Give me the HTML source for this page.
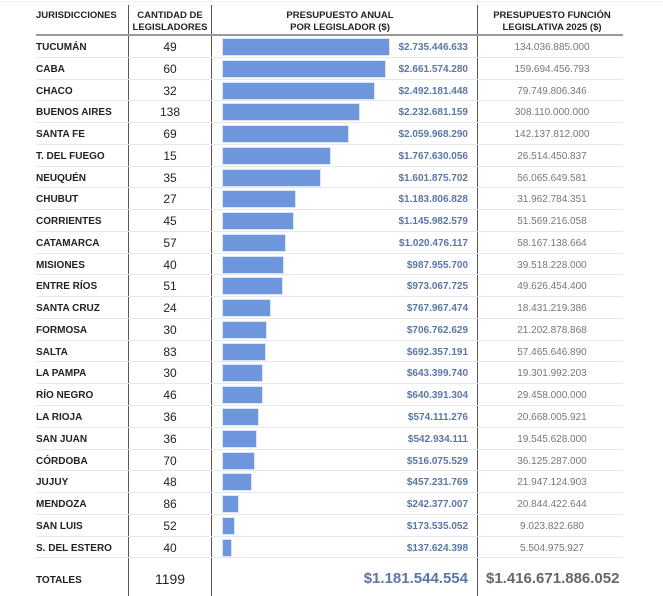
<!DOCTYPE html><html><head><meta charset="utf-8"><style>
body{margin:0;width:663px;height:596px;background:#fff;font-family:"Liberation Sans",sans-serif;position:relative;overflow:hidden}
.v{position:absolute;top:5px;bottom:0;width:1px;background:#555}
.h{position:absolute;font-weight:bold;font-size:9.5px;color:#222;text-align:center;line-height:12px}
#rows{position:absolute;left:36px;top:36px;width:587px}
.r{height:20.78px;border-bottom:1px solid #e8e8e8;position:relative;font-size:10px}
.r span{position:absolute;top:6px;line-height:12px}
.n{left:0;font-weight:bold;color:#222}
.c{left:92px;width:84px;text-align:center;font-size:12px;color:#222;top:5px!important}
.b{position:absolute;left:187px;top:3px;height:16px;background:#6e96dd;box-shadow:0 0 0 1px #dbe5f6}
.p{right:155px;font-weight:bold;color:#5a77a6}
.l{left:441px;width:150px;text-align:center;color:#777}
</style></head><body>
<div style="position:absolute;left:0;right:0;top:1px;height:1px;background:#eee"></div>
<div class="v" style="left:128px"></div><div class="v" style="left:211px"></div><div class="v" style="left:477px"></div>
<div style="position:absolute;left:36px;width:587px;top:34px;height:2px;background:#999"></div>
<div class="h" style="left:36px;top:10px;text-align:left">JURISDICCIONES</div>
<div class="h" style="left:128px;width:84px;top:10px">CANTIDAD DE<br>LEGISLADORES</div>
<div class="h" style="left:260px;width:160px;top:10px">PRESUPUESTO ANUAL<br>POR LEGISLADOR ($)</div>
<div class="h" style="left:477px;width:150px;top:10px">PRESUPUESTO FUNCIÓN<br>LEGISLATIVA 2025 ($)</div>
<div id="rows">
<div class="r"><span class="n">TUCUMÁN</span><span class="c">49</span><div class="b" style="width:166px"></div><span class="p">$2.735.446.633</span><span class="l">134.036.885.000</span></div>
<div class="r"><span class="n">CABA</span><span class="c">60</span><div class="b" style="width:161.5px"></div><span class="p">$2.661.574.280</span><span class="l">159.694.456.793</span></div>
<div class="r"><span class="n">CHACO</span><span class="c">32</span><div class="b" style="width:151px"></div><span class="p">$2.492.181.448</span><span class="l">79.749.806.346</span></div>
<div class="r"><span class="n">BUENOS AIRES</span><span class="c">138</span><div class="b" style="width:135.5px"></div><span class="p">$2.232.681.159</span><span class="l">308.110.000.000</span></div>
<div class="r"><span class="n">SANTA FE</span><span class="c">69</span><div class="b" style="width:125px"></div><span class="p">$2.059.968.290</span><span class="l">142.137.812.000</span></div>
<div class="r"><span class="n">T. DEL FUEGO</span><span class="c">15</span><div class="b" style="width:107px"></div><span class="p">$1.767.630.056</span><span class="l">26.514.450.837</span></div>
<div class="r"><span class="n">NEUQUÉN</span><span class="c">35</span><div class="b" style="width:97px"></div><span class="p">$1.601.875.702</span><span class="l">56.065.649.581</span></div>
<div class="r"><span class="n">CHUBUT</span><span class="c">27</span><div class="b" style="width:72px"></div><span class="p">$1.183.806.828</span><span class="l">31.962.784.351</span></div>
<div class="r"><span class="n">CORRIENTES</span><span class="c">45</span><div class="b" style="width:69.5px"></div><span class="p">$1.145.982.579</span><span class="l">51.569.216.058</span></div>
<div class="r"><span class="n">CATAMARCA</span><span class="c">57</span><div class="b" style="width:62px"></div><span class="p">$1.020.476.117</span><span class="l">58.167.138.664</span></div>
<div class="r"><span class="n">MISIONES</span><span class="c">40</span><div class="b" style="width:60px"></div><span class="p">$987.955.700</span><span class="l">39.518.228.000</span></div>
<div class="r"><span class="n">ENTRE RÍOS</span><span class="c">51</span><div class="b" style="width:59px"></div><span class="p">$973.067.725</span><span class="l">49.626.454.400</span></div>
<div class="r"><span class="n">SANTA CRUZ</span><span class="c">24</span><div class="b" style="width:46.6px"></div><span class="p">$767.967.474</span><span class="l">18.431.219.386</span></div>
<div class="r"><span class="n">FORMOSA</span><span class="c">30</span><div class="b" style="width:43px"></div><span class="p">$706.762.629</span><span class="l">21.202.878.868</span></div>
<div class="r"><span class="n">SALTA</span><span class="c">83</span><div class="b" style="width:42px"></div><span class="p">$692.357.191</span><span class="l">57.465.646.890</span></div>
<div class="r"><span class="n">LA PAMPA</span><span class="c">30</span><div class="b" style="width:39px"></div><span class="p">$643.399.740</span><span class="l">19.301.992.203</span></div>
<div class="r"><span class="n">RÍO NEGRO</span><span class="c">46</span><div class="b" style="width:39px"></div><span class="p">$640.391.304</span><span class="l">29.458.000.000</span></div>
<div class="r"><span class="n">LA RIOJA</span><span class="c">36</span><div class="b" style="width:35px"></div><span class="p">$574.111.276</span><span class="l">20.668.005.921</span></div>
<div class="r"><span class="n">SAN JUAN</span><span class="c">36</span><div class="b" style="width:33px"></div><span class="p">$542.934.111</span><span class="l">19.545.628.000</span></div>
<div class="r"><span class="n">CÓRDOBA</span><span class="c">70</span><div class="b" style="width:31.3px"></div><span class="p">$516.075.529</span><span class="l">36.125.287.000</span></div>
<div class="r"><span class="n">JUJUY</span><span class="c">48</span><div class="b" style="width:27.7px"></div><span class="p">$457.231.769</span><span class="l">21.947.124.903</span></div>
<div class="r"><span class="n">MENDOZA</span><span class="c">86</span><div class="b" style="width:14.7px"></div><span class="p">$242.377.007</span><span class="l">20.844.422.644</span></div>
<div class="r"><span class="n">SAN LUIS</span><span class="c">52</span><div class="b" style="width:10.5px"></div><span class="p">$173.535.052</span><span class="l">9.023.822.680</span></div>
<div class="r"><span class="n">S. DEL ESTERO</span><span class="c">40</span><div class="b" style="width:8.4px"></div><span class="p">$137.624.398</span><span class="l">5.504.975.927</span></div>
</div>
<div style="position:absolute;left:36px;top:575px;font-size:10px;font-weight:bold;color:#222">TOTALES</div>
<div style="position:absolute;left:128px;width:84px;text-align:center;top:571px;font-size:14px;color:#222">1199</div>
<div style="position:absolute;right:195px;top:570px;font-size:15px;font-weight:bold;color:#5a77a6">$1.181.544.554</div>
<div style="position:absolute;left:486px;top:570px;font-size:15px;font-weight:bold;color:#666">$1.416.671.886.052</div>
</body></html>
